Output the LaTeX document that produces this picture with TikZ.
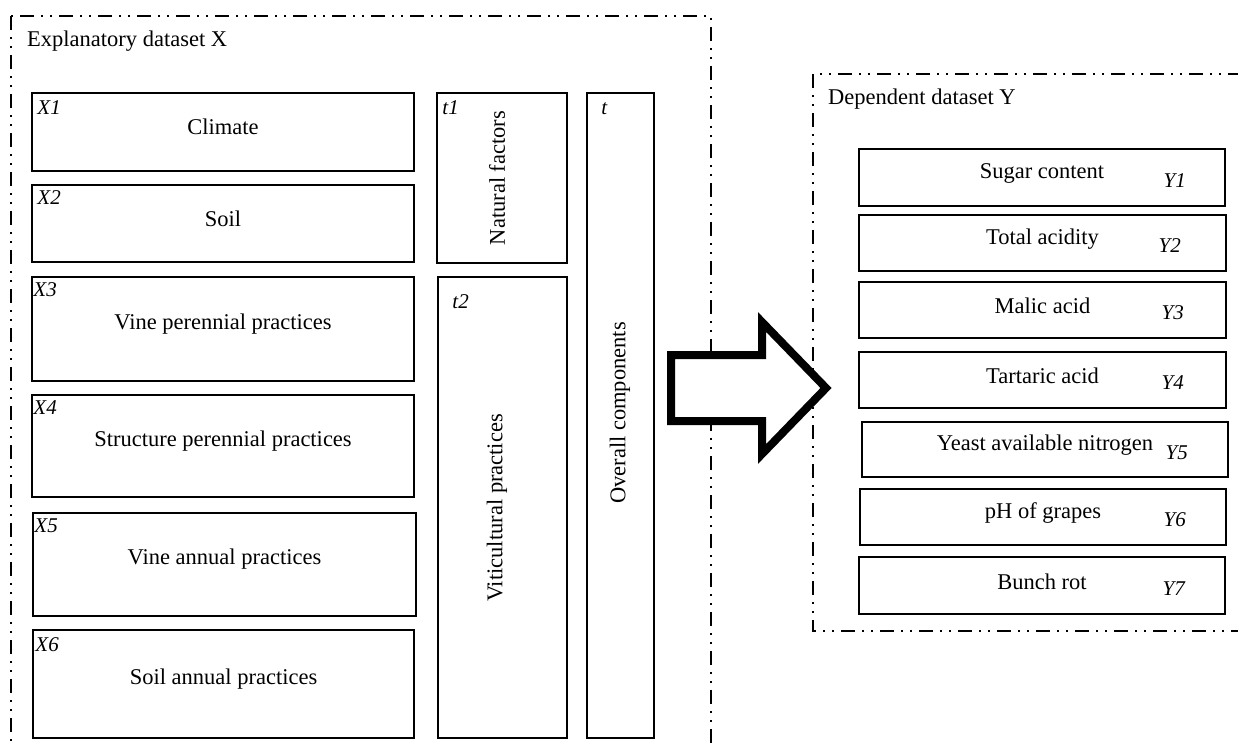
\documentclass[tikz,border=0pt]{standalone}
\usepackage{fontspec}
\setmainfont{Liberation Serif}
\usetikzlibrary{positioning}

\begin{document}
\begin{tikzpicture}[x=1pt,y=-1pt,
  box/.style={draw,line width=1.5pt,inner sep=0pt},
  frame/.style={line width=1.5pt,dash pattern=on 14pt off 7pt on 2pt off 7pt on 2pt off 7pt},
  txt/.style={font=\fontsize{22.5}{26}\selectfont,inner sep=0pt},
  tag/.style={font=\fontsize{21}{24}\selectfont\itshape,inner sep=0pt}]
\useasboundingbox (0,0) rectangle (1238,747);
\draw[frame] (11,16) rectangle (711,790);
\draw[frame] (813,74) rectangle (1270,631);
\node[txt,anchor=base west] (xhead) at (27,46) {Explanatory dataset X};
\node[txt,anchor=base west] (yhead) at (828,104) {Dependent dataset Y};

\node[box,minimum width=382pt,minimum height=78pt] (x1) at (223,132) {};
\node[box,minimum width=382pt,minimum height=77pt] (x2) at (223,223.5) {};
\node[box,minimum width=382pt,minimum height=104pt] (x3) at (223,329) {};
\node[box,minimum width=382pt,minimum height=102pt] (x4) at (223,446) {};
\node[box,minimum width=383pt,minimum height=103pt] (x5) at (224.5,564.5) {};
\node[box,minimum width=381pt,minimum height=108pt] (x6) at (223.5,684) {};
\node[txt] (climate) at ([yshift=5pt]x1.center) {Climate};
\node[txt] (soil) at ([yshift=5pt]x2.center) {Soil};
\node[txt] (vineper) at ([yshift=5pt]x3.center) {Vine perennial practices};
\node[txt] (strper) at ([yshift=5pt]x4.center) {Structure perennial practices};
\node[txt] (vineann) at ([yshift=5pt]x5.center) {Vine annual practices};
\node[txt] (soilann) at ([yshift=5pt]x6.center) {Soil annual practices};
\node[tag,anchor=north west] (x1tag) at ([xshift=6pt,yshift=-8pt]x1.north west) {X1};
\node[tag,anchor=north west] (x2tag) at ([xshift=6pt,yshift=-6pt]x2.north west) {X2};
\node[tag,anchor=north west] (x3tag) at ([xshift=2pt,yshift=-6pt]x3.north west) {X3};
\node[tag,anchor=north west] (x4tag) at ([xshift=2pt,yshift=-6pt]x4.north west) {X4};
\node[tag,anchor=north west] (x5tag) at ([xshift=2pt,yshift=-6pt]x5.north west) {X5};
\node[tag,anchor=north west] (x6tag) at ([xshift=3pt,yshift=-8pt]x6.north west) {X6};

\node[box,minimum width=130pt,minimum height=170pt] (t1) at (502,178) {};
\node[box,minimum width=129pt,minimum height=461pt] (t2) at (502.5,507.5) {};
\node[box,minimum width=67pt,minimum height=645pt] (t) at (620.5,415.5) {};
\node[txt,rotate=90] (natural) at (497,178) {Natural factors};
\node[txt,rotate=90] (vitic) at (497,508) {Viticultural practices};
\node[txt,rotate=90] (overall) at (620,413) {Overall components};
\node[tag,anchor=north west] (t1tag) at ([xshift=6pt,yshift=-8pt]t1.north west) {t1};
\node[tag,anchor=north west] (t2tag) at ([xshift=15pt,yshift=-18pt]t2.north west) {t2};
\node[tag,anchor=north west] (ttag) at ([xshift=15pt,yshift=-10pt]t.north west) {t};

\draw[line width=8pt,fill=white] (671,355) -- (762,355) -- (762,322) -- (826,388) -- (762,454) -- (762,421) -- (671,421) -- cycle;

\node[box,minimum width=366pt,minimum height=57pt] (y1) at (1042,177.5) {};
\node[box,minimum width=367pt,minimum height=56pt] (y2) at (1042.5,243) {};
\node[box,minimum width=367pt,minimum height=56pt] (y3) at (1042.5,310) {};
\node[box,minimum width=367pt,minimum height=56pt] (y4) at (1042.5,380) {};
\node[box,minimum width=366pt,minimum height=55pt] (y5) at (1045,449.5) {};
\node[box,minimum width=366pt,minimum height=56pt] (y6) at (1043,517) {};
\node[box,minimum width=366pt,minimum height=57pt] (y7) at (1042,585.5) {};
\node[txt] (sugar) at ([yshift=4pt]y1.center) {Sugar content};
\node[txt] (acidity) at ([yshift=4pt]y2.center) {Total acidity};
\node[txt] (malic) at ([yshift=4pt]y3.center) {Malic acid};
\node[txt] (tartaric) at ([yshift=4pt]y4.center) {Tartaric acid};
\node[txt] (yeast) at ([yshift=4pt]y5.center) {Yeast available nitrogen};
\node[txt] (ph) at ([yshift=4pt]y6.center) {pH of grapes};
\node[txt] (bunch) at ([yshift=4pt]y7.center) {Bunch rot};
\node[tag] (y1tag) at ([xshift=-51pt,yshift=-3pt]y1.east) {Y1};
\node[tag] (y2tag) at ([xshift=-57pt,yshift=-3pt]y2.east) {Y2};
\node[tag] (y3tag) at ([xshift=-54pt,yshift=-3pt]y3.east) {Y3};
\node[tag] (y4tag) at ([xshift=-54pt,yshift=-3pt]y4.east) {Y4};
\node[tag] (y5tag) at ([xshift=-52pt,yshift=-3pt]y5.east) {Y5};
\node[tag] (y6tag) at ([xshift=-52pt,yshift=-3pt]y6.east) {Y6};
\node[tag] (y7tag) at ([xshift=-52pt,yshift=-3pt]y7.east) {Y7};
\end{tikzpicture}
\end{document}
